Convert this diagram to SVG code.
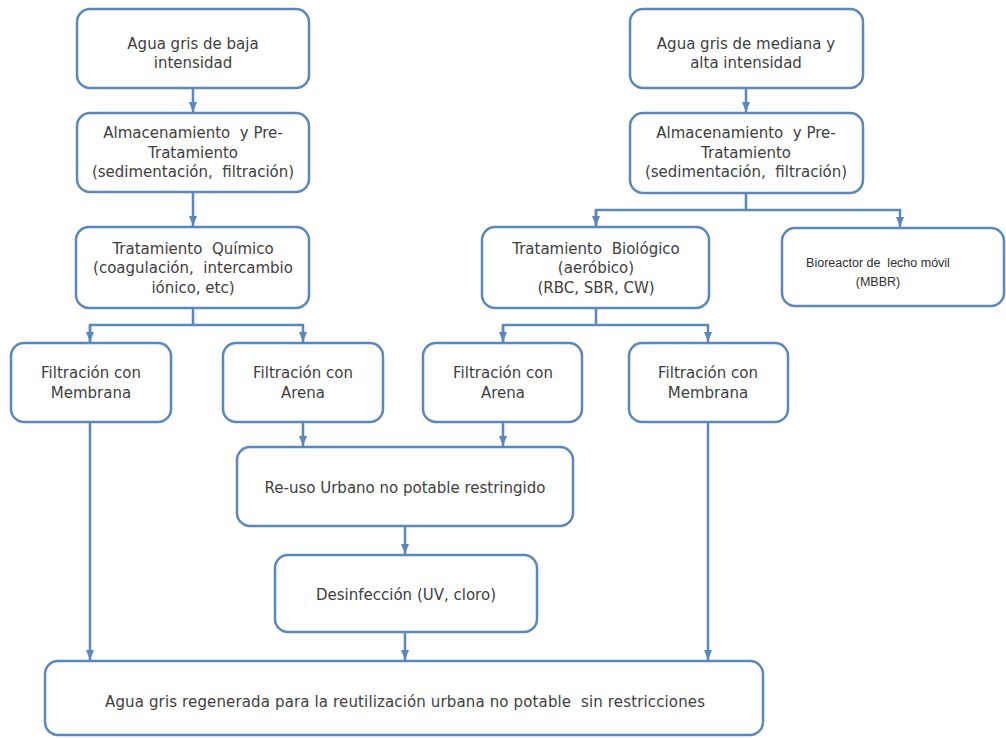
<svg xmlns="http://www.w3.org/2000/svg" width="1006" height="738" viewBox="0 0 1006 738">
<style>
.box{fill:#ffffff;stroke:#5b87bc;stroke-width:2.5}
.t{font-family:"DejaVu Sans",sans-serif;font-size:15px;fill:#404040;text-anchor:middle;white-space:pre}
.s{font-family:"Liberation Sans",sans-serif;font-size:12.5px;fill:#303030;text-anchor:middle;white-space:pre}
.c{fill:none;stroke:#5b87bc;stroke-width:2.5}
</style>
<defs>
<marker id="ah" markerUnits="userSpaceOnUse" markerWidth="10" markerHeight="10" viewBox="0 0 10 10" refX="10" refY="5" orient="auto">
<path d="M0,1 L10,5 L0,9 Z" fill="#5b87bc"/>
</marker>
</defs>
<rect width="1006" height="738" fill="#ffffff"/>
<g id="connectors">
<path class="c" d="M193,88 V112" marker-end="url(#ah)"/>
<path class="c" d="M746,88 V112" marker-end="url(#ah)"/>
<path class="c" d="M193,192 V226" marker-end="url(#ah)"/>
<path class="c" d="M746,193 V210"/>
<path class="c" d="M596,227 V210 H900 V227" marker-end="url(#ah)"/>
<path class="c" d="M596,210 V226" marker-end="url(#ah)"/>
<path class="c" d="M193,308 V325"/>
<path class="c" d="M90,342 V325 H303 V342" marker-end="url(#ah)"/>
<path class="c" d="M90,326 V342" marker-end="url(#ah)"/>
<path class="c" d="M596,308 V325"/>
<path class="c" d="M503,342 V325 H708 V342" marker-end="url(#ah)"/>
<path class="c" d="M503,326 V342" marker-end="url(#ah)"/>
<path class="c" d="M90,422 V660" marker-end="url(#ah)"/>
<path class="c" d="M303,422 V446" marker-end="url(#ah)"/>
<path class="c" d="M503,422 V446" marker-end="url(#ah)"/>
<path class="c" d="M405,526 V554" marker-end="url(#ah)"/>
<path class="c" d="M405,632 V660" marker-end="url(#ah)"/>
<path class="c" d="M708,422 V660" marker-end="url(#ah)"/>
</g>
<g id="n1"><rect class="box" x="77" y="9" width="232" height="79" rx="13"/>
<text class="t" x="193" y="49">Agua gris de baja</text><text class="t" x="193" y="68">intensidad</text></g>
<g id="n2"><rect class="box" x="77" y="113" width="232" height="79" rx="13"/>
<text class="t" x="193" y="138">Almacenamiento  y Pre-</text><text class="t" x="193" y="158">Tratamiento</text><text class="t" x="193" y="177">(sedimentación,  filtración)</text></g>
<g id="n3"><rect class="box" x="630" y="9" width="233" height="79" rx="13"/>
<text class="t" x="746" y="49">Agua gris de mediana y</text><text class="t" x="746" y="68">alta intensidad</text></g>
<g id="n4"><rect class="box" x="630" y="113" width="233" height="80" rx="13"/>
<text class="t" x="746" y="138">Almacenamiento  y Pre-</text><text class="t" x="746" y="158">Tratamiento</text><text class="t" x="746" y="177">(sedimentación,  filtración)</text></g>
<g id="n5"><rect class="box" x="76" y="227" width="233" height="81" rx="13"/>
<text class="t" x="193" y="254">Tratamiento  Químico</text><text class="t" x="193" y="273">(coagulación,  intercambio</text><text class="t" x="193" y="293">iónico, etc)</text></g>
<g id="n6"><rect class="box" x="11" y="343" width="160" height="79" rx="13"/>
<text class="t" x="91" y="378">Filtración con</text><text class="t" x="91" y="398">Membrana</text></g>
<g id="n7"><rect class="box" x="223" y="343" width="160" height="79" rx="13"/>
<text class="t" x="303" y="378">Filtración con</text><text class="t" x="303" y="398">Arena</text></g>
<g id="n8"><rect class="box" x="482" y="227" width="227" height="81" rx="13"/>
<text class="t" x="596" y="254">Tratamiento  Biológico</text><text class="t" x="596" y="273">(aeróbico)</text><text class="t" x="596" y="293">(RBC, SBR, CW)</text></g>
<g id="n9"><rect class="box" x="782" y="228" width="222" height="78" rx="13"/>
<text class="s" x="878" y="267">Bioreactor de  lecho móvil</text><text class="s" x="878" y="286">(MBBR)</text></g>
<g id="n10"><rect class="box" x="423" y="343" width="159" height="79" rx="13"/>
<text class="t" x="503" y="378">Filtración con</text><text class="t" x="503" y="398">Arena</text></g>
<g id="n11"><rect class="box" x="629" y="343" width="159" height="79" rx="13"/>
<text class="t" x="708" y="378">Filtración con</text><text class="t" x="708" y="398">Membrana</text></g>
<g id="n12"><rect class="box" x="237" y="447" width="336" height="79" rx="13"/>
<text class="t" x="405" y="493">Re-uso Urbano no potable restringido</text></g>
<g id="n13"><rect class="box" x="275" y="555" width="262" height="77" rx="13"/>
<text class="t" x="406" y="600">Desinfección (UV, cloro)</text></g>
<g id="n14"><rect class="box" x="45" y="661" width="718" height="74" rx="13"/>
<text class="t" x="405" y="707" textLength="600" lengthAdjust="spacing">Agua gris regenerada para la reutilización urbana no potable  sin restricciones</text></g>
</svg>
